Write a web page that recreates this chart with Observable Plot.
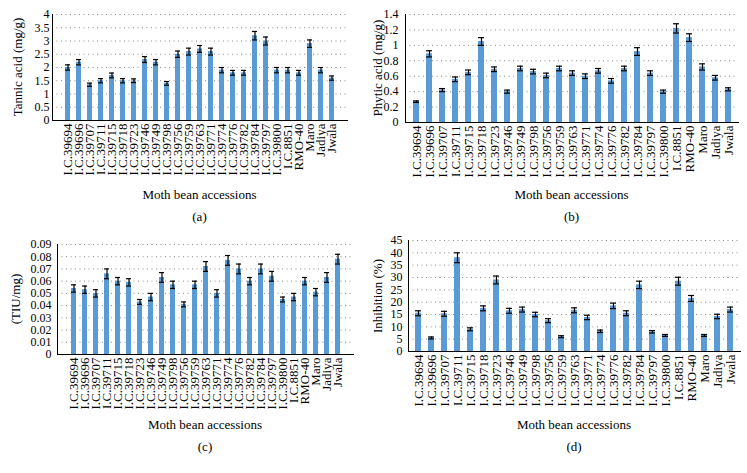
<!DOCTYPE html>
<html>
<head>
<meta charset="utf-8">
<script src="https://cdn.jsdelivr.net/npm/d3@7"></script>
<script src="https://cdn.jsdelivr.net/npm/@observablehq/plot@0.6"></script>
<style>
  html, body { margin: 0; padding: 0; background: #fff; }
  #root { position: relative; width: 747px; height: 473px; background: #fff; overflow: hidden;
          font-family: "Liberation Serif", "DejaVu Serif", serif; color: #000; }
  .panel { position: absolute; }
  .lbl { position: absolute; white-space: nowrap; font-size: 13px; transform: translate(-50%, -50%); }
  .ylbl { position: absolute; white-space: nowrap; font-size: 13px; transform: translate(-50%, -50%) rotate(-90deg); }
</style>
</head>
<body>
<div id="root"></div>
<script>
const categories = ["I.C.39694","I.C.39696","I.C.39707","I.C.39711","I.C.39715","I.C.39718","I.C.39723","I.C.39746","I.C.39749","I.C.39798","I.C.39756","I.C.39759","I.C.39763","I.C.39771","I.C.39774","I.C.39776","I.C.39782","I.C.39784","I.C.39797","I.C.39800","I.C.8851","RMO-40","Maro","Jadiya","Jwala"];

const tannic    = [2.0, 2.2, 1.35, 1.5, 1.7, 1.5, 1.5, 2.3, 2.2, 1.4, 2.5, 2.6, 2.7, 2.6, 1.9, 1.8, 1.8, 3.2, 3.0, 1.9, 1.9, 1.8, 2.9, 1.9, 1.6];
const tannicErr = [0.1, 0.1, 0.06, 0.08, 0.09, 0.08, 0.07, 0.11, 0.1, 0.07, 0.12, 0.13, 0.13, 0.13, 0.1, 0.09, 0.09, 0.16, 0.15, 0.1, 0.1, 0.09, 0.14, 0.1, 0.08];

const phytic    = [0.27, 0.89, 0.42, 0.56, 0.65, 1.05, 0.69, 0.40, 0.70, 0.66, 0.61, 0.70, 0.64, 0.60, 0.67, 0.54, 0.70, 0.92, 0.64, 0.40, 1.22, 1.10, 0.72, 0.58, 0.43];
const phyticErr = [0.01, 0.04, 0.02, 0.03, 0.03, 0.05, 0.03, 0.02, 0.03, 0.03, 0.03, 0.03, 0.03, 0.03, 0.03, 0.03, 0.03, 0.05, 0.03, 0.02, 0.06, 0.05, 0.04, 0.03, 0.02];

const tiu    = [0.054, 0.053, 0.050, 0.066, 0.060, 0.059, 0.043, 0.047, 0.063, 0.057, 0.041, 0.057, 0.072, 0.050, 0.077, 0.070, 0.060, 0.070, 0.064, 0.045, 0.047, 0.060, 0.051, 0.063, 0.078];
const tiuErr = [0.003, 0.003, 0.003, 0.004, 0.003, 0.003, 0.002, 0.003, 0.004, 0.003, 0.002, 0.003, 0.004, 0.003, 0.004, 0.004, 0.003, 0.004, 0.004, 0.002, 0.003, 0.003, 0.003, 0.004, 0.004];

const inhibition    = [15.5, 5.5, 15.3, 38.0, 9.0, 17.5, 29.0, 16.5, 17.0, 15.0, 12.5, 6.0, 16.7, 13.8, 8.2, 18.5, 15.5, 27.0, 8.0, 6.5, 28.5, 21.5, 6.5, 14.2, 17.0];
const inhibitionErr = [1.0, 0.4, 1.0, 2.0, 0.6, 1.0, 1.6, 1.0, 1.0, 0.9, 0.8, 0.4, 1.0, 0.9, 0.5, 1.1, 1.0, 1.5, 0.5, 0.4, 1.6, 1.2, 0.4, 0.9, 1.0];

const tannicTicks     = [0, 0.5, 1, 1.5, 2, 2.5, 3, 3.5, 4];
const phyticTicks     = [0, 0.2, 0.4, 0.6, 0.8, 1, 1.2, 1.4];
const tiuTicks        = [0, 0.01, 0.02, 0.03, 0.04, 0.05, 0.06, 0.07, 0.08, 0.09];
const inhibitionTicks = [0, 5, 10, 15, 20, 25, 30, 35, 40, 45];

const xTitle = "Moth bean accessions";
const panels = [
  {values: tannic, errs: tannicErr, ticks: tannicTicks, yTitle: "Tannic acid (mg/g)", tag: "(a)",
   left: 0, top: 0, width: 373, marginLeft: 52, marginRight: 26, marginTop: 14, plotBottom: 120,
   tickPad: 3, yLabelX: 18, xTitleY: 195, tagY: 217},
  {values: phytic, errs: phyticErr, ticks: phyticTicks, yTitle: "Phytic acid (mg/g)", tag: "(b)",
   left: 373, top: 0, width: 374, marginLeft: 32, marginRight: 9, marginTop: 14, plotBottom: 122,
   tickPad: 7, yLabelX: 5, xTitleY: 195, tagY: 217},
  {values: tiu, errs: tiuErr, ticks: tiuTicks, yTitle: "(TIU/mg)", tag: "(c)",
   left: 0, top: 230, width: 373, marginLeft: 57, marginRight: 20, marginTop: 14, plotBottom: 124,
   tickPad: 6, yLabelX: 16, xTitleY: 195, tagY: 217},
  {values: inhibition, errs: inhibitionErr, ticks: inhibitionTicks, yTitle: "Inhibition (%)", tag: "(d)",
   left: 373, top: 230, width: 374, marginLeft: 35, marginRight: 7, marginTop: 10, plotBottom: 121,
   tickPad: 6, yLabelX: 5, xTitleY: 195, tagY: 217}
];

const root = document.getElementById("root");
const fmt = d3.format("~g");

for (const p of panels) {
  const data = categories.map((c, i) => ({c, v: p.values[i], lo: p.values[i] - p.errs[i], hi: p.values[i] + p.errs[i]}));
  const marginBottom = 64;
  const height = p.plotBottom + marginBottom;
  const chart = Plot.plot({
    width: p.width,
    height,
    marginLeft: p.marginLeft,
    marginRight: p.marginRight,
    marginTop: p.marginTop,
    marginBottom,
    style: {fontFamily: "'Liberation Serif', serif", color: "#000", background: "transparent", overflow: "visible"},
    x: {domain: categories, paddingInner: 0.56, paddingOuter: 0.28},
    y: {domain: [0, p.ticks[p.ticks.length - 1]]},
    marks: [
      Plot.gridY(p.ticks.filter(t => t > 0), {stroke: "#8a8a8a", strokeOpacity: 1, strokeDasharray: "1,3.5"}),
      Plot.barY(data, {x: "c", y: "v", fill: "#5b9bd5"}),
      Plot.ruleX(data, {x: "c", y1: "lo", y2: "hi", stroke: "#000", strokeWidth: 1.2}),
      Plot.tickY(data, {x: "c", y: "lo", stroke: "#000", strokeWidth: 1.2}),
      Plot.tickY(data, {x: "c", y: "hi", stroke: "#000", strokeWidth: 1.2}),
      Plot.frame({anchor: "left", stroke: "#000"}),
      Plot.frame({anchor: "bottom", stroke: "#000"}),
      Plot.axisX({tickRotate: -90, tickSize: 0, tickPadding: 3, fontSize: 13, label: null, fill: "#000"}),
      Plot.axisY({ticks: p.ticks, tickFormat: fmt, tickSize: 0, tickPadding: p.tickPad, fontSize: 12, label: null, fill: "#000"})
    ]
  });
  const wrap = document.createElement("div");
  wrap.className = "panel";
  wrap.style.left = p.left + "px";
  wrap.style.top = p.top + "px";
  wrap.appendChild(chart);
  root.appendChild(wrap);

  const cx = p.left + p.marginLeft + (p.width - p.marginLeft - p.marginRight) / 2;
  const t1 = document.createElement("div");
  t1.className = "lbl"; t1.textContent = xTitle;
  t1.style.left = cx + "px"; t1.style.top = (p.top + p.xTitleY) + "px";
  root.appendChild(t1);

  const t2 = document.createElement("div");
  t2.className = "lbl"; t2.textContent = p.tag;
  t2.style.left = cx + "px"; t2.style.top = (p.top + p.tagY) + "px";
  root.appendChild(t2);

  const yl = document.createElement("div");
  yl.className = "ylbl"; yl.textContent = p.yTitle;
  yl.style.left = (p.left + p.yLabelX) + "px";
  yl.style.top = (p.top + (p.marginTop + p.plotBottom) / 2) + "px";
  root.appendChild(yl);
}
</script>
</body>
</html>
